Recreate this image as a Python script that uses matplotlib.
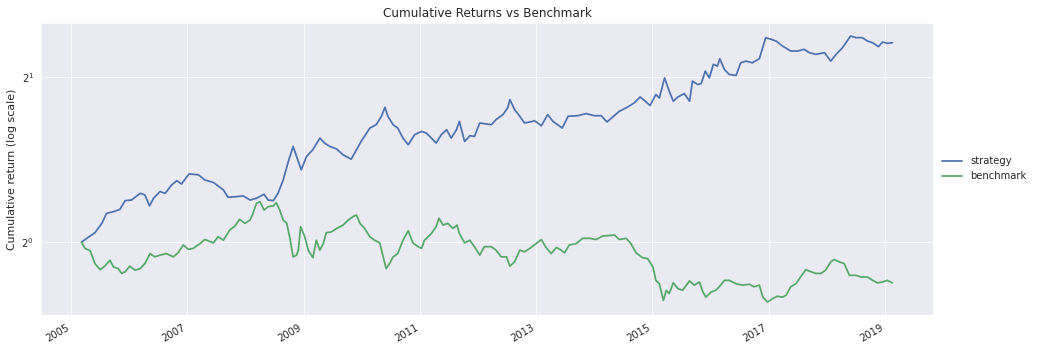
import numpy as np
import pandas as pd
import matplotlib
matplotlib.use('Agg')
import matplotlib.pyplot as plt
import matplotlib.dates as mdates
import seaborn as sns

# 读图得到的数据：时间为小数年份，数值为累计收益（起点 = 1）
strat_t = [2005.18, 2005.27, 2005.41, 2005.53, 2005.61, 2005.73, 2005.84, 2005.93,
           2006.04, 2006.19, 2006.27, 2006.35, 2006.42, 2006.53, 2006.62, 2006.73,
           2006.82, 2006.90, 2007.03, 2007.19, 2007.30, 2007.45, 2007.62, 2007.70,
           2007.85, 2007.96, 2008.08, 2008.19, 2008.32, 2008.39, 2008.48, 2008.56,
           2008.65, 2008.73, 2008.82, 2008.88, 2008.94, 2008.96, 2009.05, 2009.16,
           2009.28, 2009.36, 2009.45, 2009.57, 2009.68, 2009.82, 2009.91, 2009.99,
           2010.14, 2010.25, 2010.34, 2010.40, 2010.45, 2010.54, 2010.62, 2010.71,
           2010.80, 2010.91, 2011.03, 2011.11, 2011.17, 2011.28, 2011.37, 2011.46,
           2011.54, 2011.63, 2011.68, 2011.77, 2011.86, 2011.94, 2012.03, 2012.11,
           2012.23, 2012.31, 2012.43, 2012.51, 2012.55, 2012.63, 2012.72, 2012.80,
           2012.94, 2012.97, 2013.09, 2013.20, 2013.29, 2013.37, 2013.45, 2013.55,
           2013.72, 2013.86, 2014.00, 2014.12, 2014.22, 2014.32, 2014.43, 2014.58,
           2014.69, 2014.79, 2014.88, 2014.96, 2015.06, 2015.12, 2015.21, 2015.28,
           2015.36, 2015.44, 2015.55, 2015.64, 2015.69, 2015.78, 2015.84, 2015.91,
           2015.98, 2016.05, 2016.12, 2016.16, 2016.24, 2016.32, 2016.44, 2016.52,
           2016.61, 2016.72, 2016.84, 2016.95, 2017.04, 2017.13, 2017.24, 2017.38,
           2017.50, 2017.61, 2017.70, 2017.81, 2017.96, 2018.07, 2018.16, 2018.27,
           2018.41, 2018.50, 2018.61, 2018.70, 2018.79, 2018.89, 2018.96, 2019.04,
           2019.13]
strat_v = [1.000, 1.016, 1.040, 1.082, 1.128, 1.136, 1.147, 1.190,
           1.193, 1.227, 1.219, 1.164, 1.202, 1.236, 1.227, 1.271,
           1.294, 1.276, 1.331, 1.326, 1.298, 1.284, 1.245, 1.207,
           1.210, 1.214, 1.193, 1.202, 1.222, 1.193, 1.190, 1.227,
           1.298, 1.393, 1.494, 1.432, 1.373, 1.354, 1.432, 1.473,
           1.547, 1.515, 1.494, 1.477, 1.442, 1.416, 1.473, 1.525,
           1.613, 1.636, 1.695, 1.760, 1.695, 1.636, 1.613, 1.547,
           1.504, 1.569, 1.591, 1.580, 1.558, 1.515, 1.569, 1.602,
           1.547, 1.602, 1.659, 1.525, 1.562, 1.558, 1.648, 1.643,
           1.636, 1.671, 1.707, 1.755, 1.818, 1.743, 1.695, 1.648,
           1.659, 1.664, 1.629, 1.707, 1.659, 1.636, 1.613, 1.695,
           1.699, 1.714, 1.699, 1.699, 1.655, 1.690, 1.730, 1.763,
           1.793, 1.838, 1.805, 1.773, 1.857, 1.830, 1.991, 1.896,
           1.805, 1.838, 1.864, 1.805, 1.964, 1.936, 1.944, 2.048,
           1.991, 2.107, 2.092, 2.157, 2.062, 2.020, 2.011, 2.121,
           2.136, 2.121, 2.157, 2.357, 2.341, 2.323, 2.275, 2.228,
           2.228, 2.244, 2.213, 2.197, 2.213, 2.136, 2.197, 2.259,
           2.373, 2.357, 2.357, 2.323, 2.307, 2.269, 2.314, 2.301,
           2.307]

bench_t = [2005.18, 2005.24, 2005.33, 2005.41, 2005.50, 2005.58, 2005.67, 2005.73,
           2005.81, 2005.87, 2005.93, 2006.01, 2006.10, 2006.19, 2006.27, 2006.36,
           2006.44, 2006.53, 2006.64, 2006.76, 2006.84, 2006.93, 2007.02, 2007.10,
           2007.22, 2007.30, 2007.45, 2007.53, 2007.62, 2007.73, 2007.82, 2007.90,
           2007.99, 2008.08, 2008.13, 2008.19, 2008.25, 2008.32, 2008.39, 2008.48,
           2008.53, 2008.59, 2008.65, 2008.71, 2008.76, 2008.82, 2008.88, 2008.91,
           2008.95, 2009.02, 2009.08, 2009.16, 2009.22, 2009.28, 2009.34, 2009.39,
           2009.48, 2009.57, 2009.68, 2009.77, 2009.85, 2009.91, 2009.97, 2010.05,
           2010.14, 2010.22, 2010.31, 2010.37, 2010.42, 2010.48, 2010.54, 2010.62,
           2010.71, 2010.80, 2010.88, 2010.97, 2011.03, 2011.08, 2011.20, 2011.28,
           2011.33, 2011.40, 2011.48, 2011.57, 2011.64, 2011.68, 2011.77, 2011.86,
           2011.94, 2012.03, 2012.11, 2012.23, 2012.31, 2012.40, 2012.49, 2012.55,
           2012.63, 2012.72, 2012.80, 2012.89, 2012.97, 2013.09, 2013.17, 2013.26,
           2013.35, 2013.43, 2013.49, 2013.57, 2013.69, 2013.80, 2013.92, 2014.03,
           2014.15, 2014.26, 2014.35, 2014.43, 2014.55, 2014.63, 2014.72, 2014.83,
           2014.92, 2015.01, 2015.06, 2015.12, 2015.19, 2015.24, 2015.29, 2015.36,
           2015.44, 2015.52, 2015.64, 2015.72, 2015.81, 2015.87, 2015.92, 2016.01,
           2016.09, 2016.15, 2016.24, 2016.32, 2016.44, 2016.55, 2016.67, 2016.75,
           2016.84, 2016.90, 2016.98, 2017.07, 2017.15, 2017.24, 2017.30, 2017.38,
           2017.47, 2017.55, 2017.64, 2017.73, 2017.81, 2017.90, 2017.98, 2018.07,
           2018.13, 2018.21, 2018.30, 2018.39, 2018.50, 2018.59, 2018.70, 2018.79,
           2018.87, 2018.96, 2019.04, 2019.13]
bench_v = [1.000, 0.974, 0.964, 0.914, 0.891, 0.904, 0.927, 0.901,
           0.895, 0.877, 0.883, 0.904, 0.889, 0.895, 0.914, 0.953,
           0.940, 0.947, 0.953, 0.940, 0.956, 0.988, 0.970, 0.974,
           0.994, 1.011, 0.997, 1.023, 1.008, 1.052, 1.070, 1.100,
           1.082, 1.097, 1.128, 1.177, 1.185, 1.144, 1.160, 1.164,
           1.180, 1.144, 1.097, 1.082, 1.023, 0.940, 0.947, 0.967,
           1.067, 1.023, 0.967, 0.937, 1.008, 0.967, 0.994, 1.040,
           1.044, 1.059, 1.074, 1.097, 1.113, 1.120, 1.082, 1.059,
           1.023, 1.008, 0.997, 0.940, 0.895, 0.914, 0.940, 0.953,
           1.008, 1.049, 0.997, 0.981, 0.974, 1.008, 1.037, 1.067,
           1.105, 1.074, 1.082, 1.059, 1.074, 1.037, 0.997, 1.008,
           0.981, 0.947, 0.981, 0.981, 0.967, 0.940, 0.940, 0.904,
           0.921, 0.967, 0.960, 0.974, 0.988, 1.011, 0.978, 0.953,
           0.978, 0.967, 0.956, 0.988, 0.994, 1.016, 1.016, 1.011,
           1.026, 1.028, 1.030, 1.011, 1.016, 0.994, 0.956, 0.937,
           0.933, 0.901, 0.852, 0.840, 0.783, 0.817, 0.806, 0.843,
           0.823, 0.817, 0.850, 0.835, 0.846, 0.811, 0.794, 0.811,
           0.817, 0.829, 0.852, 0.852, 0.840, 0.835, 0.838, 0.829,
           0.835, 0.794, 0.778, 0.789, 0.797, 0.794, 0.800, 0.829,
           0.840, 0.864, 0.891, 0.883, 0.877, 0.877, 0.889, 0.921,
           0.930, 0.921, 0.914, 0.870, 0.870, 0.864, 0.864, 0.852,
           0.843, 0.846, 0.852, 0.843]

series_names = ['strategy', 'benchmark']
tick_years = [2005, 2007, 2009, 2011, 2013, 2015, 2017, 2019]


def to_dates(years):
    # 小数年份 -> 日期
    years = np.asarray(years, dtype=float)
    return pd.Timestamp('2005-01-01') + pd.to_timedelta((years - 2005) * 365.25, unit='D')


sns.set_style('darkgrid')
plt.rcParams['font.family'] = ['DejaVu Sans']

fig = plt.figure(figsize=(1037 / 72, 352 / 72), dpi=72)
ax = fig.add_axes([0.0395, 0.1043, 0.8602, 0.8312])

ax.plot(to_dates(strat_t), strat_v, color='#4C72B0', lw=1.75, label=series_names[0])
ax.plot(to_dates(bench_t), bench_v, color='#55A868', lw=1.75, label=series_names[1])

ax.set_yscale('log', base=2)
ax.set_title('Cumulative Returns vs Benchmark', fontsize=12, color='.15')
ax.set_ylabel('Cumulative return (log scale)', fontsize=11, color='.15')
ax.tick_params(labelsize=10, colors='.15')
ax.legend(loc='center left', bbox_to_anchor=(1.0, 0.5), frameon=False, fontsize=10)

# x 轴刻度：奇数年
ax.set_xticks(to_dates(tick_years))
ax.xaxis.set_major_formatter(mdates.DateFormatter('%Y'))

fig.autofmt_xdate()
# autofmt_xdate 会改 subplots 位置，这里重新固定
ax.set_position([0.0395, 0.1043, 0.8602, 0.8312])

fig.savefig('out.png', dpi=72)
plt.close(fig)
